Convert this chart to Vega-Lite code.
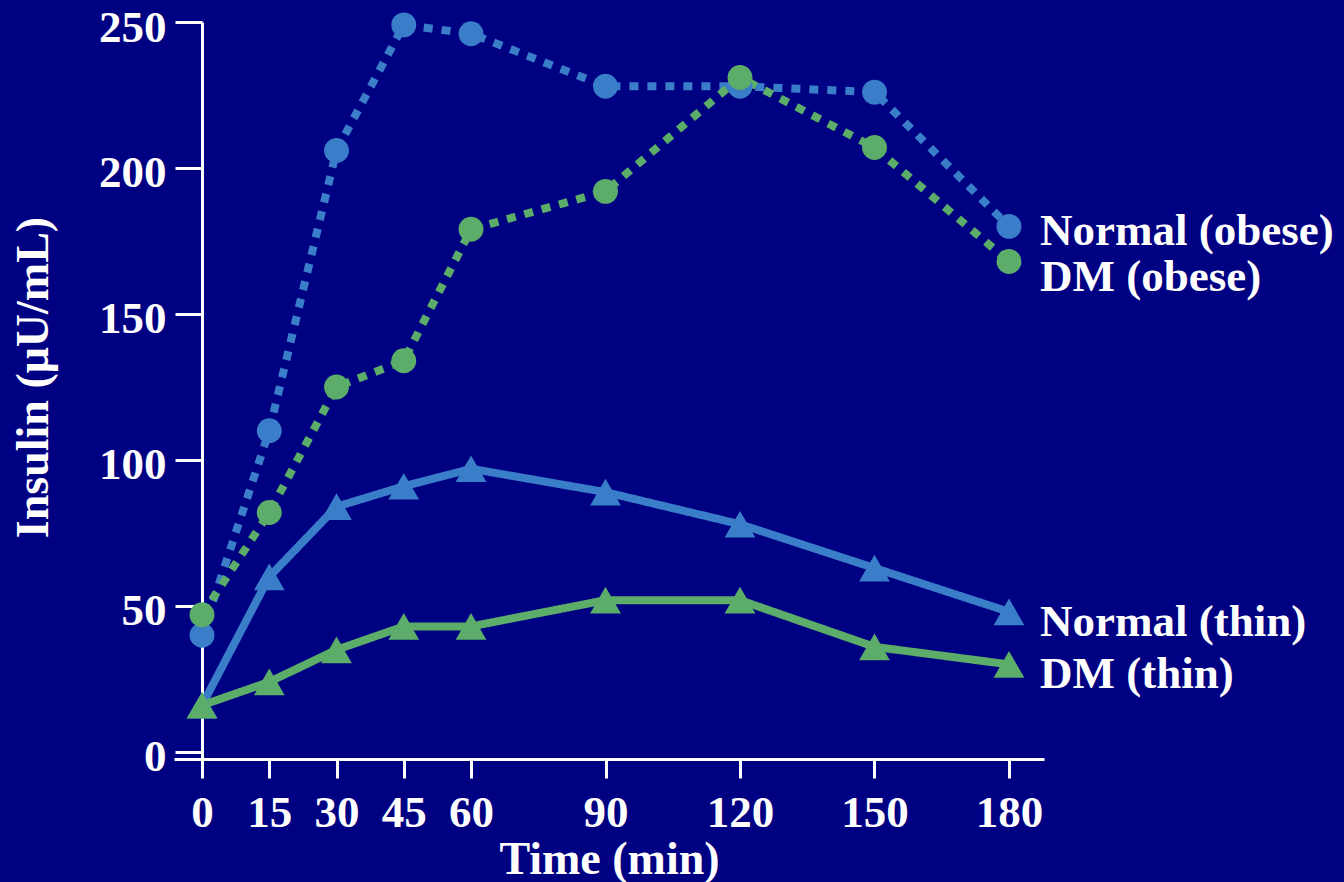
{
  "$schema": "https://vega.github.io/schema/vega-lite/v6.json",
  "width": 870,
  "height": 737,
  "autosize": {"type": "none"},
  "padding": {"left": 174, "top": 22, "right": 300, "bottom": 123},
  "background": "#000082",
  "config": {
    "view": {"stroke": null},
    "font": "Liberation Serif",
    "axis": {
      "domainColor": "white", "domainWidth": 3,
      "tickColor": "white", "tickWidth": 3,
      "labelColor": "white", "labelFont": "Liberation Serif", "labelFontWeight": "bold", "labelFontSize": 45,
      "titleColor": "white", "titleFont": "Liberation Serif", "titleFontWeight": "bold", "titleFontSize": 46,
      "grid": false, "labelOverlap": false, "labelFlush": false
    }
  },
  "data": {
    "values": [
      {"series": "Normal (obese)", "time": 0, "insulin": 40},
      {"series": "Normal (obese)", "time": 15, "insulin": 110},
      {"series": "Normal (obese)", "time": 30, "insulin": 206},
      {"series": "Normal (obese)", "time": 45, "insulin": 249},
      {"series": "Normal (obese)", "time": 60, "insulin": 246},
      {"series": "Normal (obese)", "time": 90, "insulin": 228},
      {"series": "Normal (obese)", "time": 120, "insulin": 228},
      {"series": "Normal (obese)", "time": 150, "insulin": 226},
      {"series": "Normal (obese)", "time": 180, "insulin": 180},
      {"series": "DM (obese)", "time": 0, "insulin": 47},
      {"series": "DM (obese)", "time": 15, "insulin": 82},
      {"series": "DM (obese)", "time": 30, "insulin": 125},
      {"series": "DM (obese)", "time": 45, "insulin": 134},
      {"series": "DM (obese)", "time": 60, "insulin": 179},
      {"series": "DM (obese)", "time": 90, "insulin": 192},
      {"series": "DM (obese)", "time": 120, "insulin": 231},
      {"series": "DM (obese)", "time": 150, "insulin": 207},
      {"series": "DM (obese)", "time": 180, "insulin": 168},
      {"series": "Normal (thin)", "time": 0, "insulin": 16},
      {"series": "Normal (thin)", "time": 15, "insulin": 60},
      {"series": "Normal (thin)", "time": 30, "insulin": 84},
      {"series": "Normal (thin)", "time": 45, "insulin": 91},
      {"series": "Normal (thin)", "time": 60, "insulin": 97},
      {"series": "Normal (thin)", "time": 90, "insulin": 89},
      {"series": "Normal (thin)", "time": 120, "insulin": 78},
      {"series": "Normal (thin)", "time": 150, "insulin": 63},
      {"series": "Normal (thin)", "time": 180, "insulin": 48},
      {"series": "DM (thin)", "time": 0, "insulin": 16},
      {"series": "DM (thin)", "time": 15, "insulin": 24},
      {"series": "DM (thin)", "time": 30, "insulin": 35},
      {"series": "DM (thin)", "time": 45, "insulin": 43},
      {"series": "DM (thin)", "time": 60, "insulin": 43},
      {"series": "DM (thin)", "time": 90, "insulin": 52},
      {"series": "DM (thin)", "time": 120, "insulin": 52},
      {"series": "DM (thin)", "time": 150, "insulin": 36},
      {"series": "DM (thin)", "time": 180, "insulin": 30}
    ]
  },
  "encoding": {
    "x": {
      "field": "time", "type": "quantitative",
      "scale": {"domain": [-6.25, 187.81], "nice": false, "zero": false},
      "axis": {
        "values": [0, 15, 30, 45, 60, 90, 120, 150, 180],
        "tickSize": 19, "labelPadding": 12,
        "title": "Time (min)", "titlePadding": 2
      }
    },
    "y": {
      "field": "insulin", "type": "quantitative",
      "scale": {"domain": [-2.4, 250], "nice": false, "zero": false},
      "axis": {
        "values": [0, 50, 100, 150, 200, 250],
        "offset": -28, "tickSize": 27, "labelPadding": 9, "labelOffset": 5,
        "title": "Insulin (μU/mL)", "titlePadding": 41, "titleY": 355
      }
    },
    "color": {
      "field": "series", "type": "nominal", "legend": null,
      "scale": {
        "domain": ["Normal (obese)", "DM (obese)", "Normal (thin)", "DM (thin)"],
        "range": ["#3A7DC9", "#5BAD69", "#3A7DC9", "#5BAD69"]
      }
    }
  },
  "layer": [
    {
      "mark": {"type": "line", "strokeWidth": 8, "strokeCap": "butt", "clip": false},
      "encoding": {
        "strokeDash": {
          "field": "series", "type": "nominal", "legend": null,
          "scale": {
            "domain": ["Normal (obese)", "DM (obese)", "Normal (thin)", "DM (thin)"],
            "range": [[9, 9], [9, 9], [1, 0], [1, 0]]
          }
        }
      }
    },
    {
      "transform": [{"filter": "datum.series === 'Normal (obese)' || datum.series === 'DM (obese)'"}],
      "mark": {"type": "point", "shape": "circle", "size": 620, "filled": true, "opacity": 1, "clip": false},
      "encoding": {}
    },
    {
      "transform": [{"filter": "datum.series === 'Normal (thin)' || datum.series === 'DM (thin)'"}],
      "mark": {"type": "point", "shape": "triangle-up", "size": 950, "filled": true, "opacity": 1, "clip": false},
      "encoding": {}
    },
    {
      "transform": [{"filter": "datum.time === 180 && datum.series === 'Normal (obese)'"}],
      "mark": {
        "type": "text", "align": "left", "baseline": "middle", "dx": 31, "dy": 5,
        "font": "Liberation Serif", "fontWeight": "bold", "fontSize": 45
      },
      "encoding": {"text": {"field": "series"}, "color": {"value": "white"}}
    },
    {
      "transform": [{"filter": "datum.time === 180 && datum.series === 'DM (obese)'"}],
      "mark": {
        "type": "text", "align": "left", "baseline": "middle", "dx": 31, "dy": 16,
        "font": "Liberation Serif", "fontWeight": "bold", "fontSize": 45
      },
      "encoding": {"text": {"field": "series"}, "color": {"value": "white"}}
    },
    {
      "transform": [{"filter": "datum.time === 180 && (datum.series === 'Normal (thin)' || datum.series === 'DM (thin)')"}],
      "mark": {
        "type": "text", "align": "left", "baseline": "middle", "dx": 31, "dy": 10,
        "font": "Liberation Serif", "fontWeight": "bold", "fontSize": 45
      },
      "encoding": {"text": {"field": "series"}, "color": {"value": "white"}}
    }
  ]
}
